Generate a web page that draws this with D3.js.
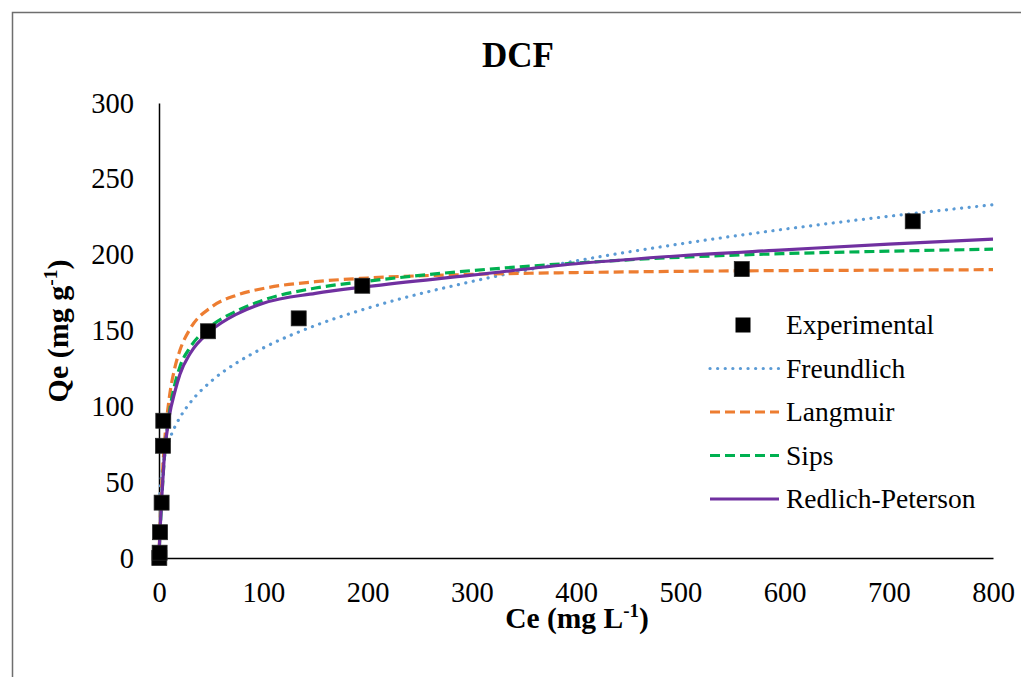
<!DOCTYPE html>
<html>
<head>
<meta charset="utf-8">
<script src="https://cdn.jsdelivr.net/npm/d3@7"></script>
<style>
  body { margin: 0; background: #fff; }
  svg { display: block; font-family: "Liberation Serif", "Times New Roman", serif; }
</style>
</head>
<body>
<div id="chart"></div>
<script>
// Experimental points (Ce, Qe)
const ceExp = [0.3, 0.6, 1, 2.5, 3.8, 4.1, 47, 134, 195, 559, 723];
const qeExp = [0, 3.5, 17, 36.5, 74, 90.5, 149.5, 158, 179.5, 190.5, 222];

// Model curves at these Ce values
const ceModel = [0.3, 0.5, 1, 2, 3, 5, 10, 15, 20, 30, 50, 75, 100, 150, 200, 300, 400, 500, 600, 700, 800];
const qFreundlich = [32.4, 36.8, 43.8, 52.1, 57.6, 65.5, 77.9, 86.2, 92.6, 102.5, 116.5, 128.9, 138.5, 153.3, 164.7, 182.3, 195.9, 207.1, 216.8, 225.3, 232.9];
const qLangmuir = [6.9, 11.2, 21.2, 38.2, 52.1, 73.5, 106.3, 124.9, 136.8, 151.3, 165.3, 173.4, 177.7, 182.2, 184.6, 187.0, 188.2, 189.0, 189.5, 189.8, 190.1];
const qSips = [5, 9, 17, 30, 43, 65, 96, 114, 126, 139, 153, 163, 170, 178, 182.5, 189.5, 194.5, 198.3, 200.7, 202.3, 203.6];
const qRP = [6, 10, 18, 31, 44, 66, 94, 109, 121, 135, 150, 161, 168, 174.5, 179, 186.5, 194, 199.3, 203.2, 207, 210.2];

const xTicks = [0, 100, 200, 300, 400, 500, 600, 700, 800];
const yTicks = [0, 50, 100, 150, 200, 250, 300];

const series = [
    {name: 'Freundlich', values: qFreundlich, color: '#5B9BD5', dash: '0.1 7.5', width: 3.2, cap: 'round'},
    {name: 'Langmuir', values: qLangmuir, color: '#ED7D31', dash: '10 5', width: 3.2, cap: 'butt'},
    {name: 'Sips', values: qSips, color: '#00B050', dash: '10 5', width: 3.2, cap: 'butt'},
    {name: 'Redlich-Peterson', values: qRP, color: '#7030A0', dash: null, width: 3.2, cap: 'butt'}
];

const W = 1021, H = 677;
const svg = d3.select('#chart').append('svg')
    .attr('width', W)
    .attr('height', H);

// Chart border
svg.append('rect')
    .attr('x', 12.5).attr('y', 12.5)
    .attr('width', 1100).attr('height', 900)
    .attr('fill', 'none')
    .attr('stroke', '#6e6e6e')
    .attr('stroke-width', 1.5);

const x = d3.scaleLinear().domain([0, 800]).range([159, 993]);
const y = d3.scaleLinear().domain([0, 300]).range([558, 103]);

// Title
svg.append('text')
    .attr('x', 518).attr('y', 67)
    .attr('text-anchor', 'middle')
    .style('font-size', '35px')
    .style('font-weight', 'bold')
    .text('DCF');

// Axes
const xAxis = svg.append('g')
    .attr('transform', `translate(0,${y(0)})`)
    .call(d3.axisBottom(x).tickValues(xTicks).tickSize(0).tickPadding(24).tickFormat(d3.format('d')));
const yAxis = svg.append('g')
    .attr('transform', `translate(${x(0)},0)`)
    .call(d3.axisLeft(y).tickValues(yTicks).tickSize(0).tickPadding(25).tickFormat(d3.format('d')));

[xAxis, yAxis].forEach(g => {
    g.select('.domain').attr('stroke', '#000').attr('stroke-width', 1.5);
    g.selectAll('text')
        .style('font-family', '"Liberation Serif", "Times New Roman", serif')
        .style('font-size', '28.5px')
        .attr('fill', '#000');
});

// Axis titles
const xTitle = svg.append('text')
    .attr('x', 577).attr('y', 628)
    .attr('text-anchor', 'middle')
    .style('font-size', '29.5px')
    .style('font-weight', 'bold');
xTitle.append('tspan').text('Ce (mg L');
xTitle.append('tspan').attr('dy', -11).style('font-size', '19px').text('-1');
xTitle.append('tspan').attr('dy', 11).text(')');

const yTitle = svg.append('text')
    .attr('transform', 'translate(68,331) rotate(-90)')
    .attr('text-anchor', 'middle')
    .style('font-size', '30px')
    .style('font-weight', 'bold');
yTitle.append('tspan').text('Qe (mg g');
yTitle.append('tspan').attr('dy', -11).style('font-size', '19.5px').text('-1');
yTitle.append('tspan').attr('dy', 11).text(')');

// Model lines
const line = d3.line()
    .x(d => x(d[0]))
    .y(d => y(d[1]))
    .curve(d3.curveMonotoneX);

series.forEach(s => {
    svg.append('path')
        .datum(ceModel.map((c, i) => [c, s.values[i]]))
        .attr('d', line)
        .attr('fill', 'none')
        .attr('stroke', s.color)
        .attr('stroke-width', s.width)
        .attr('stroke-linecap', s.cap)
        .attr('stroke-dasharray', s.dash);
});

// Experimental points
svg.selectAll('rect.pt')
    .data(ceExp.map((c, i) => [c, qeExp[i]]))
  .enter().append('rect')
    .attr('class', 'pt')
    .attr('x', d => x(d[0]) - 7.5)
    .attr('y', d => y(d[1]) - 7.5)
    .attr('width', 15)
    .attr('height', 15)
    .attr('fill', '#000')
    .attr('stroke', '#262626')
    .attr('stroke-width', 0.75);

// Legend
const legend = svg.append('g');
const rowY = [325, 368.5, 412, 455.5, 499];

legend.append('rect')
    .attr('x', 743 - 7.5).attr('y', rowY[0] - 7.5)
    .attr('width', 15).attr('height', 15)
    .attr('fill', '#000');
legend.append('text')
    .attr('x', 786).attr('y', rowY[0] + 9)
    .style('font-size', '27.5px')
    .text('Experimental');

series.forEach((s, i) => {
    const ly = rowY[i + 1];
    legend.append('line')
        .attr('x1', 710).attr('x2', 779)
        .attr('y1', ly).attr('y2', ly)
        .attr('stroke', s.color)
        .attr('stroke-width', s.width)
        .attr('stroke-linecap', s.cap)
        .attr('stroke-dasharray', s.dash);
    legend.append('text')
        .attr('x', 786).attr('y', ly + 9)
        .style('font-size', '27.5px')
        .text(s.name);
});
</script>
</body>
</html>
